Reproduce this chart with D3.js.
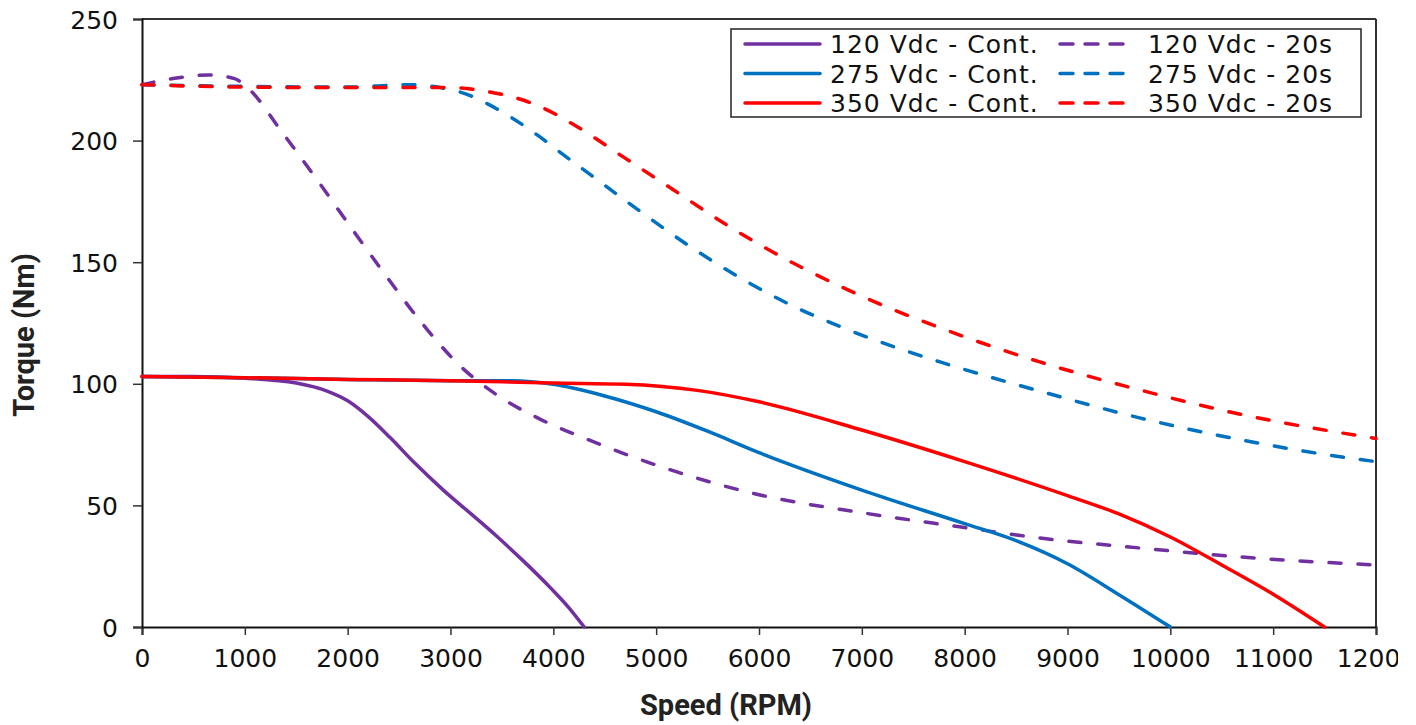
<!DOCTYPE html>
<html lang="en">
<head>
<meta charset="utf-8">
<title>Torque vs speed</title>
<script src="https://cdn.jsdelivr.net/npm/d3@7"></script>
<style>
    body { margin: 0; background: #fff; }
    #chart1 { width: 1416px; height: 725px; overflow: hidden; }
    svg { display: block; overflow: hidden; }
    .tick text { font-family: "DejaVu Sans", Verdana, sans-serif; font-size: 25px; fill: #111; }
    .axis-title { font-family: Roboto, "Open Sans", sans-serif; font-weight: 700; font-size: 29px; fill: #222; }
    .legend-text { font-family: "DejaVu Sans", Verdana, sans-serif; font-size: 25px; letter-spacing: 1px; fill: #111; }
</style>
</head>
<body>
<div id="chart1"></div>

<script>
// [rpm, Nm]
const cont120 = [[0,103],[500,103],[1000,102.3],[1500,100.3],[1800,97],[2000,93],[2200,86.5],[2410,78],[2650,67.5],[2930,56.3],[3200,46.5],[3450,37.3],[3700,27.5],[3975,16],[4150,8],[4300,0]];
const cont275 = [[0,103],[1000,102.5],[2000,101.8],[3000,101.3],[3600,101.3],[4000,99.8],[4500,95],[5000,88.5],[5500,80.5],[6000,71.7],[7000,56.3],[8000,42.5],[8500,35.5],[9000,26],[9500,13.3],[10000,0]];
const cont350 = [[0,103],[1000,102.5],[2000,101.8],[3000,101.3],[4000,100.3],[4700,99.8],[5400,97.3],[6000,92.6],[7000,81],[8000,68],[9000,54],[9500,46.5],[10000,37],[10500,25.5],[11000,13.5],[11500,0]];
const peak120 = [[0,223],[300,225.5],[650,227],[900,225.5],[1020,222],[1370,203],[1700,184],[2020,165],[2380,144],[2730,124.5],[3090,107.5],[3480,94.6],[3870,85.5],[4430,75.5],[5040,66],[6010,54.3],[7000,47],[7950,41.2],[8730,36.6],[9700,32.5],[10680,28.8],[12000,25.5]];
const peak275 = [[0,223],[1000,222.3],[2000,222],[2580,223],[3090,220],[3365,215],[3610,209],[3870,201.5],[4040,196],[4360,186],[4825,171.5],[5310,157],[5800,144],[6280,133],[6790,123.5],[7260,116],[7760,109],[8730,97],[9700,86],[10680,77],[11820,69],[12000,68]];
const peak350 = [[0,223],[1000,222],[2000,221.8],[3000,221.8],[3380,220],[3640,217.5],[3870,214],[4200,206.5],[4690,193],[5170,179.7],[5660,166],[6150,153.8],[6660,142.7],[7190,132.5],[7700,124],[8120,117.5],[8730,109],[9700,97.5],[10680,87.5],[12000,77.5]];

const seriesNames = ["120 Vdc - Cont.", "275 Vdc - Cont.", "350 Vdc - Cont.", "120 Vdc - 20s", "275 Vdc - 20s", "350 Vdc - 20s"];
const seriesData = [cont120, cont275, cont350, peak120, peak275, peak350];
const seriesColors = ["#7030A0", "#0070C0", "#FF0000", "#7030A0", "#0070C0", "#FF0000"];
const seriesDashed = [false, false, false, true, true, true];

const xTicks = d3.range(0, 12001, 1000);
const yTicks = d3.range(0, 251, 50);

const margin = {top: 19, right: 40, bottom: 98, left: 142};
const width = 1376 - margin.left;
const height = 627 - margin.top;

const svg = d3.select("#chart1")
    .append("svg")
        .attr("width", 1398)
        .attr("height", 725);

const g = svg.append("g")
    .attr("transform", "translate(" + margin.left + "," + margin.top + ")");

const x = d3.scaleLinear().domain([0, 12000]).range([0, width]);
const y = d3.scaleLinear().domain([0, 250]).range([height, 0]);

// frame: top + right
g.append("line").attr("x1", 0).attr("x2", width).attr("y1", 0).attr("y2", 0)
    .attr("stroke", "#333").attr("stroke-width", 2);
g.append("line").attr("x1", width).attr("x2", width).attr("y1", 0).attr("y2", height)
    .attr("stroke", "#333").attr("stroke-width", 2);

// axes
const xAxis = g.append("g")
    .attr("transform", "translate(0," + height + ")")
    .call(d3.axisBottom(x).tickValues(xTicks).tickFormat(d3.format("d")).tickSize(8).tickPadding(14));
const yAxis = g.append("g")
    .call(d3.axisLeft(y).tickValues(yTicks).tickSize(9).tickPadding(15));

[xAxis, yAxis].forEach(a => {
    a.select(".domain").attr("stroke", "#111").attr("stroke-width", 2);
    a.selectAll(".tick line").attr("stroke", "#333").attr("stroke-width", 1.5);
});
yAxis.selectAll(".tick text").attr("dy", "0.36em");

// lines
const line = d3.line()
    .x(d => x(d[0]))
    .y(d => y(d[1]))
    .curve(d3.curveMonotoneX);

// dashed first so solid ones sit on top like the original
const order = [3, 4, 5, 0, 1, 2];
order.forEach(i => {
    g.append("path")
        .datum(seriesData[i])
        .attr("d", line)
        .attr("fill", "none")
        .attr("stroke", seriesColors[i])
        .attr("stroke-width", 3.5)
        .attr("stroke-linecap", "round")
        .attr("stroke-dasharray", seriesDashed[i] ? "12,17" : null);
});

// legend
const legend = svg.append("g").attr("transform", "translate(731,29)");
legend.append("rect")
    .attr("width", 630).attr("height", 88)
    .attr("fill", "#fff").attr("stroke", "#222").attr("stroke-width", 1.5);

seriesNames.forEach((name, i) => {
    const col = seriesDashed[i] ? 1 : 0;
    const row = i % 3;
    const item = legend.append("g")
        .attr("transform", "translate(" + (14 + col * 315) + "," + (15 + row * 29.5) + ")");
    item.append("line")
        .attr("x1", 0).attr("x2", 75)
        .attr("stroke", seriesColors[i])
        .attr("stroke-width", 3.5)
        .attr("stroke-linecap", "round")
        .attr("stroke-dasharray", seriesDashed[i] ? "13,12" : null);
    item.append("text")
        .attr("class", "legend-text")
        .attr("x", 85 + col * 3)
        .attr("dy", "0.36em")
        .text(name);
});

// axis titles
svg.append("text")
    .attr("class", "axis-title")
    .attr("text-anchor", "middle")
    .attr("x", margin.left + width / 2 - 33)
    .attr("y", 715)
    .text("Speed (RPM)");

svg.append("text")
    .attr("class", "axis-title")
    .attr("text-anchor", "middle")
    .attr("transform", "translate(34,335) rotate(-90)")
    .text("Torque (Nm)");
</script>
</body>
</html>
